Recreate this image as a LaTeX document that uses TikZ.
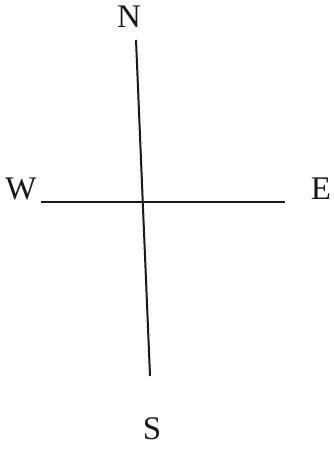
\documentclass[tikz,border=0pt]{standalone}
\usepackage{fontspec}
\setmainfont{Liberation Serif}
\usetikzlibrary{positioning}
\tikzset{
  dirlabel/.style={
    font=\fontsize{33}{33}\selectfont, inner sep=0pt, text=black!90
  },
  axisline/.style={
    line width=2pt, color=black!90
  },
}

\begin{document}
\begin{tikzpicture}[x=1pt,y=-1pt]
  \useasboundingbox (0,0) rectangle (334,452);

  % direction letters
  \node[dirlabel] (north) at (129,17) {N};
  \node[dirlabel] (west) at (21,189) {W};
  \node[dirlabel] (east) at (321,189) {E};
  \node[dirlabel] (south) at (152,429) {S};

  % line ends
  \coordinate (ntop) at (136,40);
  \coordinate (sbot) at (150,376);
  \coordinate (wend) at (41,202);
  \coordinate (eend) at (285,202);

  % the two lines
  \draw[axisline] (ntop) -- (sbot);
  \draw[axisline] (wend) -- (eend);
\end{tikzpicture}
\end{document}
